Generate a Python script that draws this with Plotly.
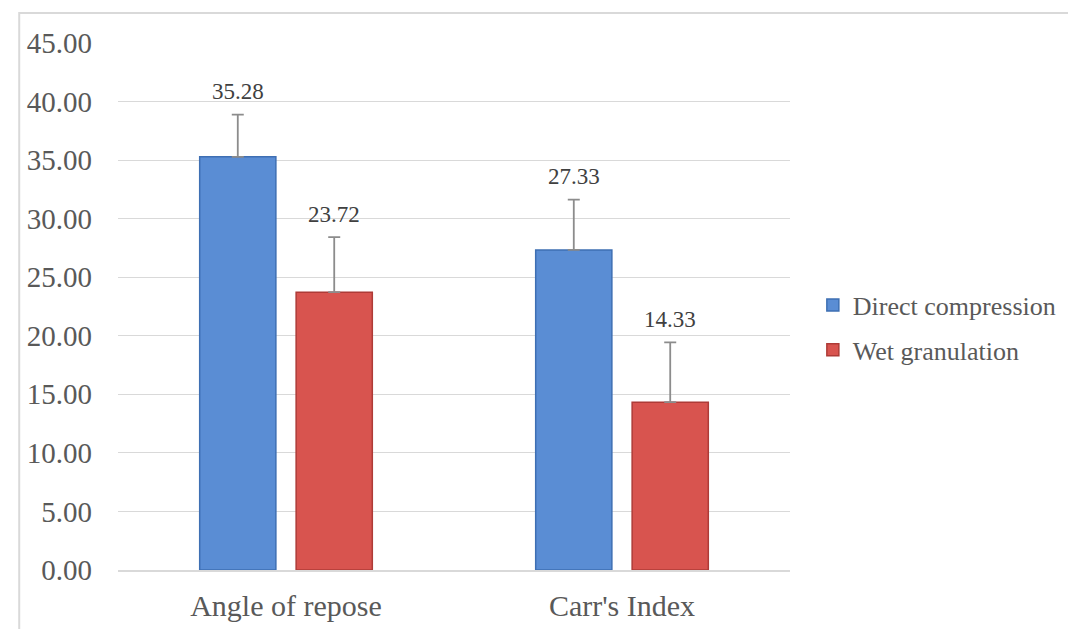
import plotly.graph_objects as go

categories = ["Angle of repose", "Carr's Index"]
direct_vals = [35.28, 27.33]
direct_err = [3.6, 4.3]
wet_vals = [23.72, 14.33]
wet_err = [4.7, 5.1]
y_ticks = [0, 5, 10, 15, 20, 25, 30, 35, 40, 45]
y_tick_labels = [f"{v:.2f}" for v in y_ticks]

FONT = "Liberation Serif"
TXT = "#595959"

fig = go.Figure()
fig.add_trace(go.Bar(
    name="Direct compression", x=categories, y=direct_vals,
    marker=dict(color="#5A8DD4", line=dict(color="#3E6FB3", width=1.5)),
    error_y=dict(type="data", symmetric=False, array=direct_err,
                 arrayminus=[0, 0], color="#8C8C8C", thickness=1.8, width=6),
    legendgroup="a",
))
fig.add_trace(go.Bar(
    name="Wet granulation", x=categories, y=wet_vals,
    marker=dict(color="#D8544F", line=dict(color="#AE3B37", width=1.5)),
    error_y=dict(type="data", symmetric=False, array=wet_err,
                 arrayminus=[0, 0], color="#8C8C8C", thickness=1.8, width=6),
    legendgroup="b",
))

# data labels above the error bars
for vals, errs, shift in ((direct_vals, direct_err, -48), (wet_vals, wet_err, 48)):
    for c, v, e in zip(categories, vals, errs):
        fig.add_annotation(x=c, y=v + e, text=f"{v:.2f}", showarrow=False,
                           xshift=shift, yshift=23, yanchor="middle",
                           font=dict(family=FONT, size=23, color="#404040"))

# outer chart border
fig.add_shape(type="rect", xref="paper", yref="paper",
              x0=-0.147, x1=1.45, y0=-0.16, y1=1.057,
              line=dict(color="#D9D9D9", width=2), fillcolor="rgba(0,0,0,0)")

fig.update_layout(
    width=1076, height=629,
    margin=dict(l=110, r=294, t=35, b=67),
    paper_bgcolor="white", plot_bgcolor="white",
    barmode="group", bargap=0.426, bargroupgap=0.21,
    font=dict(family=FONT, color=TXT),
    legend=dict(x=1.034, y=0.46, xanchor="left", yanchor="middle",
                font=dict(family=FONT, size=26, color=TXT),
                tracegroupgap=8, traceorder="grouped",
                bgcolor="rgba(0,0,0,0)"),
    showlegend=True,
)
fig.update_xaxes(showgrid=False, showline=True, linecolor="#D9D9D9", linewidth=1.5,
                 tickfont=dict(family=FONT, size=30, color=TXT),
                 ticks="", ticklabelstandoff=8)
fig.update_yaxes(range=[0, 45], tickvals=y_ticks, ticktext=y_tick_labels,
                 showgrid=True, gridcolor="#D9D9D9", gridwidth=1.2,
                 zeroline=False, showline=False, ticks="",
                 tickfont=dict(family=FONT, size=29, color=TXT),
                 ticklabelstandoff=25)

fig.write_html("out.html")
